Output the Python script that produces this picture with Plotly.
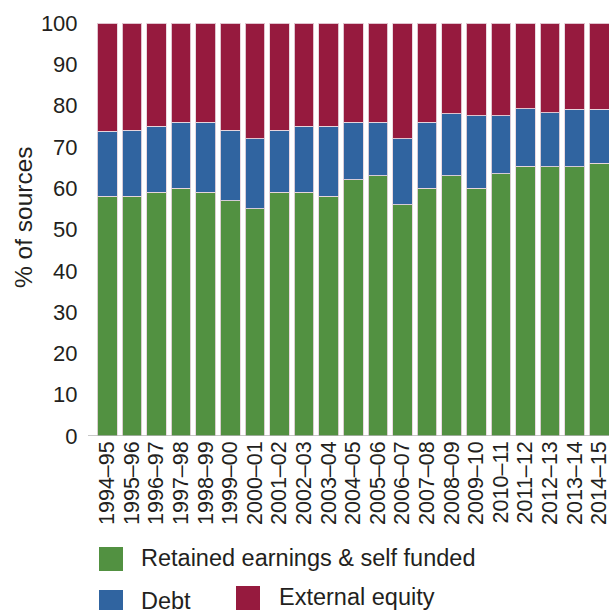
import plotly.graph_objects as go

years = ["1994–95", "1995–96", "1996–97", "1997–98", "1998–99", "1999–00", "2000–01",
         "2001–02", "2002–03", "2003–04", "2004–05", "2005–06", "2006–07", "2007–08",
         "2008–09", "2009–10", "2010–11", "2011–12", "2012–13", "2013–14", "2014–15"]
retained = [58, 58, 59, 60, 59, 57, 55, 59, 59, 58, 62, 63, 56, 60, 63, 60, 63.5, 65.3, 65.2, 65.2, 66]
debt = [15.8, 16, 16, 16, 17, 17, 17, 15, 16, 17, 14, 13, 16, 16, 15, 17.5, 14, 13.9, 13.1, 13.9, 13.1]
equity = [round(100 - r - d, 1) for r, d in zip(retained, debt)]

series_names = ["Retained earnings & self funded", "Debt", "External equity"]
series_values = [retained, debt, equity]
colors = ["#529141", "#3064a0", "#961a3e"]

y_ticks = [0, 10, 20, 30, 40, 50, 60, 70, 80, 90, 100]

FONT = "Liberation Sans, Arial, sans-serif"
TXT = "#231f20"

fig = go.Figure()
for name, vals, col in zip(series_names, series_values, colors):
    fig.add_trace(go.Bar(
        x=years, y=vals, name=name,
        marker=dict(color=col, line=dict(color="rgba(232,214,222,0.9)", width=1)),
        showlegend=False,
    ))

# plot-area geometry (pixels) for placing legend/title
L, R, T, B = 95, 609, 23, 436
W, H = R - L, B - T

def px(x):
    return (x - L) / W

def py(y):
    return (B - y) / H

# y-axis title
annotations = [dict(
    text="% of sources", x=px(23), y=py(217), xref="paper", yref="paper",
    showarrow=False, textangle=-90, xanchor="center", yanchor="middle",
    font=dict(family=FONT, size=24.5, color=TXT))]

# legend
legend_items = [
    (series_names[0], colors[0], 99, 547, 139, 558),
    (series_names[1], colors[1], 99, 590, 139, 601),
    (series_names[2], colors[2], 236, 586, 277, 597),
]
shapes = []
for name, col, sx, sy, tx, ty in legend_items:
    shapes.append(dict(type="rect", xref="paper", yref="paper",
                       x0=px(sx), x1=px(sx + 24), y0=py(sy), y1=py(sy + 24),
                       fillcolor=col, line=dict(width=0)))
    annotations.append(dict(text=name, x=px(tx), y=py(ty), xref="paper", yref="paper",
                            showarrow=False, xanchor="left", yanchor="middle",
                            font=dict(family=FONT, size=23.5, color=TXT)))

# baseline axis line
shapes.append(dict(type="line", xref="paper", yref="y", x0=px(88), x1=1, y0=0, y1=0,
                   line=dict(color="#b4b4b4", width=1.5)))

fig.update_layout(
    barmode="stack",
    bargap=0.2,
    width=609, height=610,
    margin=dict(l=L, r=609 - R, t=T, b=610 - B, pad=0, autoexpand=False),
    paper_bgcolor="white", plot_bgcolor="white",
    font=dict(family=FONT, size=22, color=TXT),
    shapes=shapes,
    annotations=annotations,
    xaxis=dict(
        type="category", range=[-0.5, -0.5 + W / 24.6],
        tickmode="array", tickvals=years, ticktext=years,
        tickangle=-90, tickfont=dict(family=FONT, size=21.5, color=TXT),
        ticks="",
        showgrid=False, showline=False, zeroline=False, automargin=False,
    ),
    yaxis=dict(
        range=[0, 100], tickvals=y_ticks, ticktext=[str(v) for v in y_ticks],
        tickfont=dict(family=FONT, size=22, color=TXT),
        ticks="outside", ticklen=12, tickcolor="rgba(0,0,0,0)",
        showgrid=False, showline=False, zeroline=False, automargin=False,
    ),
)

fig.write_html(
    "out.html",
    config={"displayModeBar": False},
    post_script="document.body.style.margin='0';document.body.style.overflow='hidden';",
)
